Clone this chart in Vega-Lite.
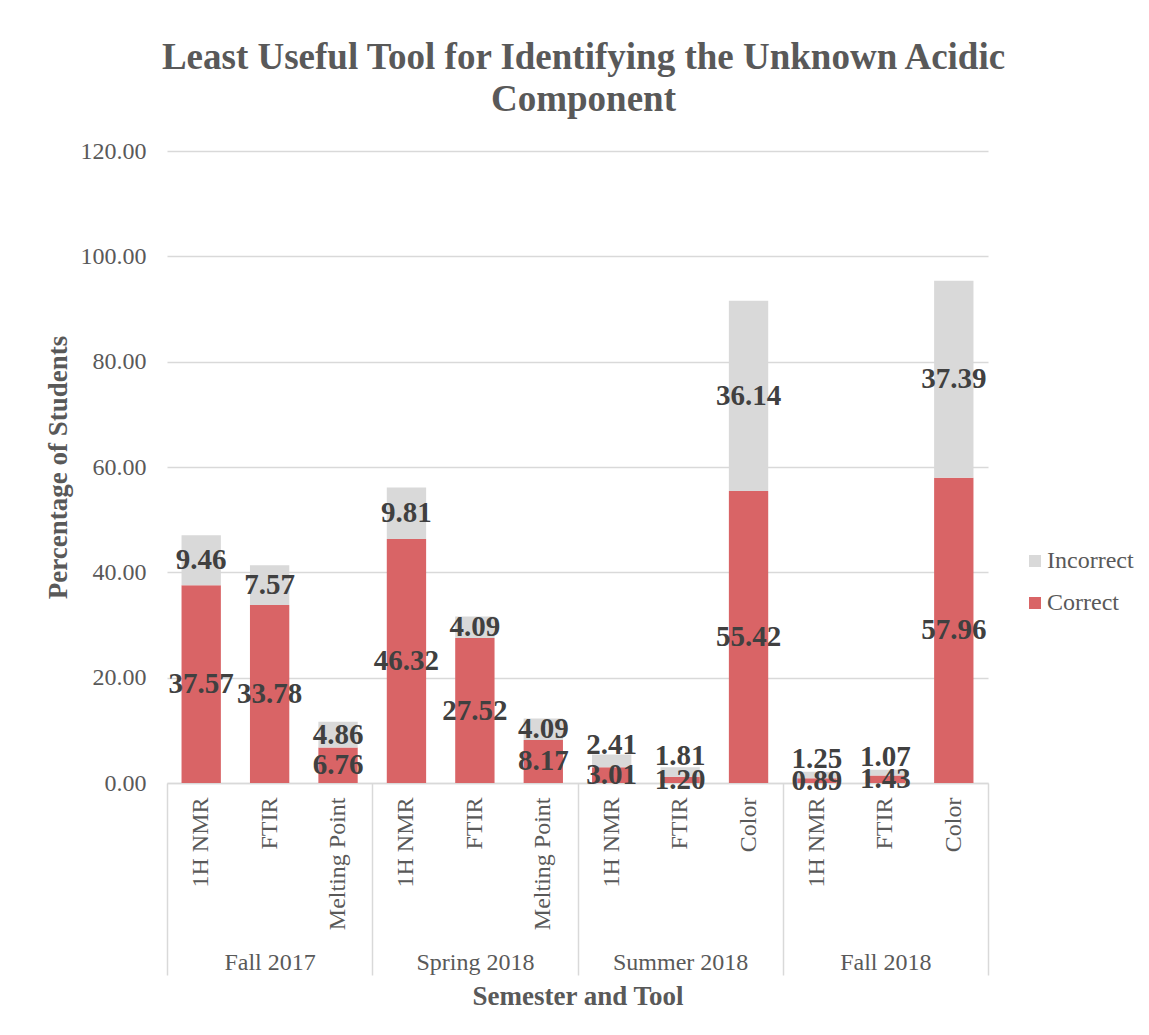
{
  "$schema": "https://vega.github.io/schema/vega-lite/v6.json",
  "width": 821,
  "height": 632,
  "autosize": "none",
  "padding": {"left": 167, "top": 151, "right": 161, "bottom": 252},
  "background": "white",
  "config": {"font": "Liberation Serif", "view": {"stroke": null}},
  "title": {
    "text": ["Least Useful Tool for Identifying the Unknown Acidic", "Component"],
    "fontSize": 37,
    "fontWeight": "bold",
    "color": "#595959",
    "lineHeight": 42,
    "anchor": "middle",
    "frame": "group",
    "dx": 6,
    "offset": 20
  },
  "data": {
    "values": [
      {"key": "Fall 2017|1H NMR", "semester": "Fall 2017", "tool": "1H NMR", "result": "Correct", "value": 37.57},
      {"key": "Fall 2017|1H NMR", "semester": "Fall 2017", "tool": "1H NMR", "result": "Incorrect", "value": 9.46},
      {"key": "Fall 2017|FTIR", "semester": "Fall 2017", "tool": "FTIR", "result": "Correct", "value": 33.78},
      {"key": "Fall 2017|FTIR", "semester": "Fall 2017", "tool": "FTIR", "result": "Incorrect", "value": 7.57},
      {"key": "Fall 2017|Melting Point", "semester": "Fall 2017", "tool": "Melting Point", "result": "Correct", "value": 6.76},
      {"key": "Fall 2017|Melting Point", "semester": "Fall 2017", "tool": "Melting Point", "result": "Incorrect", "value": 4.86},
      {"key": "Spring 2018|1H NMR", "semester": "Spring 2018", "tool": "1H NMR", "result": "Correct", "value": 46.32},
      {"key": "Spring 2018|1H NMR", "semester": "Spring 2018", "tool": "1H NMR", "result": "Incorrect", "value": 9.81},
      {"key": "Spring 2018|FTIR", "semester": "Spring 2018", "tool": "FTIR", "result": "Correct", "value": 27.52},
      {"key": "Spring 2018|FTIR", "semester": "Spring 2018", "tool": "FTIR", "result": "Incorrect", "value": 4.09},
      {"key": "Spring 2018|Melting Point", "semester": "Spring 2018", "tool": "Melting Point", "result": "Correct", "value": 8.17},
      {"key": "Spring 2018|Melting Point", "semester": "Spring 2018", "tool": "Melting Point", "result": "Incorrect", "value": 4.09},
      {"key": "Summer 2018|1H NMR", "semester": "Summer 2018", "tool": "1H NMR", "result": "Correct", "value": 3.01},
      {"key": "Summer 2018|1H NMR", "semester": "Summer 2018", "tool": "1H NMR", "result": "Incorrect", "value": 2.41},
      {"key": "Summer 2018|FTIR", "semester": "Summer 2018", "tool": "FTIR", "result": "Correct", "value": 1.20},
      {"key": "Summer 2018|FTIR", "semester": "Summer 2018", "tool": "FTIR", "result": "Incorrect", "value": 1.81},
      {"key": "Summer 2018|Color", "semester": "Summer 2018", "tool": "Color", "result": "Correct", "value": 55.42},
      {"key": "Summer 2018|Color", "semester": "Summer 2018", "tool": "Color", "result": "Incorrect", "value": 36.14},
      {"key": "Fall 2018|1H NMR", "semester": "Fall 2018", "tool": "1H NMR", "result": "Correct", "value": 0.89},
      {"key": "Fall 2018|1H NMR", "semester": "Fall 2018", "tool": "1H NMR", "result": "Incorrect", "value": 1.25},
      {"key": "Fall 2018|FTIR", "semester": "Fall 2018", "tool": "FTIR", "result": "Correct", "value": 1.43},
      {"key": "Fall 2018|FTIR", "semester": "Fall 2018", "tool": "FTIR", "result": "Incorrect", "value": 1.07},
      {"key": "Fall 2018|Color", "semester": "Fall 2018", "tool": "Color", "result": "Correct", "value": 57.96},
      {"key": "Fall 2018|Color", "semester": "Fall 2018", "tool": "Color", "result": "Incorrect", "value": 37.39}
    ]
  },
  "layer": [
    {
      "encoding": {
        "x": {
          "field": "key",
          "type": "nominal",
          "sort": null,
          "scale": {"paddingInner": 0.425, "paddingOuter": 0.2125},
          "axis": {
            "orient": "bottom",
            "title": null,
            "labelExpr": "split(datum.label, '|')[1]",
            "labelAngle": 270,
            "labelAlign": "right",
            "labelBaseline": "middle",
            "labelPadding": 14,
            "ticks": false,
            "tickSize": 0,
            "domain": false,
            "grid": false,
            "labelFontSize": 24,
            "labelColor": "#595959",
            "labelLimit": 300
          }
        }
      },
      "layer": [
        {
          "mark": {"type": "bar"},
          "encoding": {
            "y": {
              "field": "value",
              "type": "quantitative",
              "stack": "zero",
              "scale": {"domain": [0, 120], "nice": false},
              "axis": {
                "title": "Percentage of Students",
                "values": [0, 20, 40, 60, 80, 100, 120],
                "format": ".2f",
                "grid": true,
                "gridColor": "#d9d9d9",
                "gridWidth": 1.5,
                "domain": false,
                "ticks": false,
                "labelPadding": 21,
                "labelFontSize": 24,
                "labelColor": "#595959",
                "titleFontSize": 27,
                "titleFontWeight": "bold",
                "titleColor": "#595959",
                "titlePadding": 8
              }
            },
            "color": {
              "field": "result",
              "type": "nominal",
              "scale": {"domain": ["Incorrect", "Correct"], "range": ["#d9d9d9", "#d96466"]},
              "legend": {
                "orient": "none",
                "legendX": 856,
                "legendY": 398,
                "title": null,
                "symbolType": "square",
                "symbolSize": 144,
                "symbolStrokeWidth": 0,
                "labelFontSize": 24,
                "labelColor": "#595959",
                "labelOffset": 0,
                "rowPadding": 18,
                "padding": 0
              }
            },
            "order": {"field": "result", "type": "nominal", "sort": "ascending"}
          }
        },
        {
          "mark": {"type": "text", "fontSize": 29, "fontWeight": "bold", "color": "#404040", "baseline": "middle", "align": "center"},
          "encoding": {
            "y": {
              "field": "value",
              "type": "quantitative",
              "stack": "zero",
              "bandPosition": 0.5,
              "scale": {"domain": [0, 120], "nice": false},
              "axis": {
                "title": "Percentage of Students",
                "values": [0, 20, 40, 60, 80, 100, 120],
                "format": ".2f",
                "grid": true,
                "gridColor": "#d9d9d9",
                "gridWidth": 1.5,
                "domain": false,
                "ticks": false,
                "labelPadding": 21,
                "labelFontSize": 24,
                "labelColor": "#595959",
                "titleFontSize": 27,
                "titleFontWeight": "bold",
                "titleColor": "#595959",
                "titlePadding": 8
              }
            },
            "detail": {"field": "result", "type": "nominal"},
            "order": {"field": "result", "type": "nominal", "sort": "ascending"},
            "text": {
              "condition": {"test": "datum.result === 'Incorrect' && datum.value < 3", "value": ""},
              "field": "value",
              "type": "quantitative",
              "format": ".2f"
            }
          }
        },
        {
          "mark": {"type": "text", "fontSize": 29, "fontWeight": "bold", "color": "#404040", "baseline": "middle", "align": "center", "dy": -16},
          "encoding": {
            "y": {
              "field": "value",
              "type": "quantitative",
              "stack": "zero",
              "bandPosition": 0.5,
              "scale": {"domain": [0, 120], "nice": false},
              "axis": {
                "title": "Percentage of Students",
                "values": [0, 20, 40, 60, 80, 100, 120],
                "format": ".2f",
                "grid": true,
                "gridColor": "#d9d9d9",
                "gridWidth": 1.5,
                "domain": false,
                "ticks": false,
                "labelPadding": 21,
                "labelFontSize": 24,
                "labelColor": "#595959",
                "titleFontSize": 27,
                "titleFontWeight": "bold",
                "titleColor": "#595959",
                "titlePadding": 8
              }
            },
            "detail": {"field": "result", "type": "nominal"},
            "order": {"field": "result", "type": "nominal", "sort": "ascending"},
            "text": {
              "condition": {"test": "datum.result === 'Incorrect' && datum.value < 3", "field": "value", "type": "quantitative", "format": ".2f"},
              "value": ""
            }
          }
        }
      ]
    },
    {
      "mark": {"type": "rule", "opacity": 0},
      "encoding": {
        "x": {
          "field": "semester",
          "type": "nominal",
          "sort": null,
          "scale": {"paddingInner": 0, "paddingOuter": 0},
          "axis": {
            "orient": "bottom",
            "title": "Semester and Tool",
            "tickBand": "extent",
            "tickSize": 192,
            "tickColor": "#d9d9d9",
            "tickWidth": 1.5,
            "domainColor": "#d9d9d9",
            "domainWidth": 1.5,
            "labelAngle": 0,
            "labelPadding": -25,
            "labelFontSize": 24,
            "labelColor": "#595959",
            "titleFontSize": 27,
            "titleFontWeight": "bold",
            "titleColor": "#595959",
            "titlePadding": 8,
            "grid": false
          }
        }
      }
    }
  ],
  "resolve": {"scale": {"x": "independent"}, "axis": {"x": "independent"}}
}
